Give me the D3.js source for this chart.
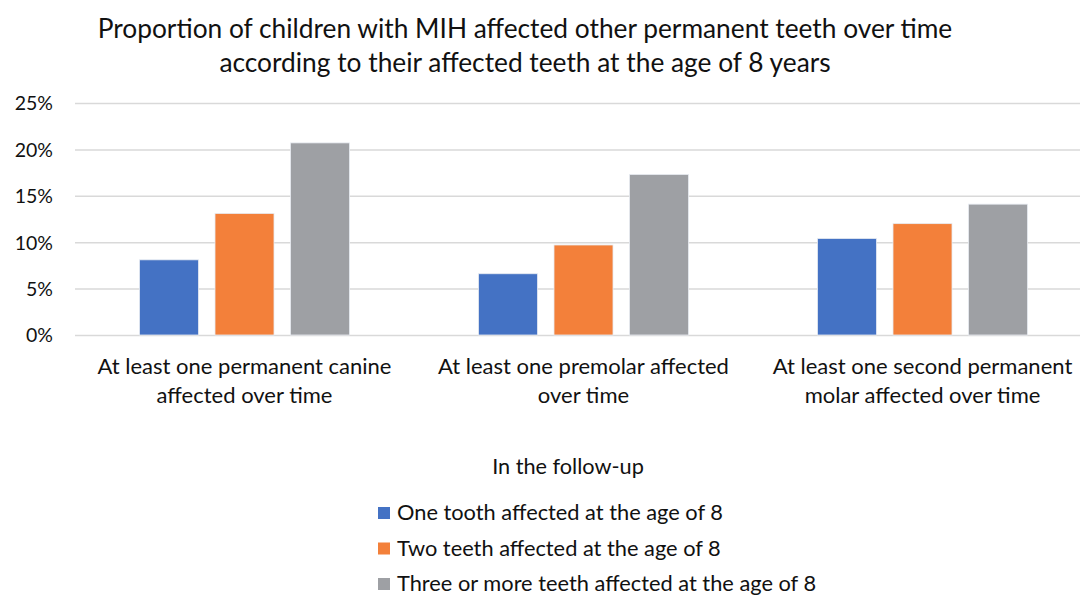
<!DOCTYPE html>
<html>
<head>
<meta charset="utf-8">
<script src="https://cdn.jsdelivr.net/npm/d3@7"></script>
<style>
  body { margin: 0; background: #fff; }
  svg text { font-family: Lato, "Open Sans", sans-serif; fill: #111; }
</style>
</head>
<body>
<svg id="chart" width="1080" height="596"></svg>
<script>
// data
var categories = [
    ["At least one permanent canine", "affected over time"],
    ["At least one premolar affected", "over time"],
    ["At least one second permanent", "molar affected over time"]
];
var seriesNames = [
    "One tooth affected at the age of 8",
    "Two teeth affected at the age of 8",
    "Three or more teeth affected at the age of 8"
];
var oneTooth = [8.1, 6.6, 10.4];
var twoTeeth = [13.1, 9.7, 12.0];
var threeTeeth = [20.7, 17.3, 14.1];
var yTicks = [0, 5, 10, 15, 20, 25];
var colours = ["#4472C4", "#F3803A", "#9EA0A4"];

var series = [oneTooth, twoTeeth, threeTeeth];
var svg = d3.select("svg#chart");

var x0 = d3.scaleBand()
    .domain(d3.range(categories.length))
    .range([75, 1092])
    .padding(0);

var x1 = d3.scaleBand()
    .domain(d3.range(series.length))
    .range([0, x0.bandwidth()])
    .paddingInner(0.2185)
    .paddingOuter(0.854);

var y = d3.scaleLinear()
    .domain([0, 25])
    .range([335, 103]);

// title
svg.append("text")
    .attr("x", 525).attr("y", 38)
    .attr("text-anchor", "middle")
    .style("font-size", "26.3px")
    .text("Proportion of children with MIH affected other permanent teeth over time");
svg.append("text")
    .attr("x", 525).attr("y", 72)
    .attr("text-anchor", "middle")
    .style("font-size", "26.3px")
    .text("according to their affected teeth at the age of 8 years");

// gridlines + y labels
var yAxis = d3.axisLeft(y)
    .tickValues(yTicks)
    .tickSize(-(1080 - 75))
    .tickPadding(22)
    .tickFormat(function(d) { return d + "%"; });

var gy = svg.append("g")
    .attr("transform", "translate(75,0)")
    .call(yAxis);
gy.select(".domain").remove();
gy.selectAll(".tick line").attr("stroke", "#d9d9d9").attr("stroke-width", 1.5);
gy.selectAll(".tick text")
    .style("font-size", "19.5px")
    .style("fill", "#111")
    .attr("dy", "0.35em");

// bars
var groups = svg.append("g")
    .selectAll("g")
    .data(categories)
    .enter()
    .append("g")
    .attr("transform", function(d, i) { return "translate(" + x0(i) + ",0)"; });

groups.selectAll("rect")
    .data(function(d, i) { return series.map(function(s, j) { return {s: j, v: s[i]}; }); })
    .enter()
    .append("rect")
    .attr("x", function(d) { return x1(d.s); })
    .attr("y", function(d) { return y(d.v); })
    .attr("width", x1.bandwidth())
    .attr("height", function(d) { return y(0) - y(d.v); })
    .attr("fill", function(d) { return colours[d.s]; })
    .attr("stroke", "#e8ecf2")
    .attr("stroke-width", 0.8);

// category labels
groups.each(function(d, i) {
    var g = d3.select(this);
    d.forEach(function(line, k) {
        g.append("text")
            .attr("x", x0.bandwidth() / 2)
            .attr("y", 374 + k * 29)
            .attr("text-anchor", "middle")
            .style("font-size", "22px")
            .text(line);
    });
});

// legend
svg.append("text")
    .attr("x", 568).attr("y", 474)
    .attr("text-anchor", "middle")
    .style("font-size", "21.7px")
    .text("In the follow-up");

var legend = svg.append("g")
    .selectAll("g")
    .data(seriesNames)
    .enter()
    .append("g")
    .attr("transform", function(d, i) { return "translate(378," + (513 + i * 35.5) + ")"; });

legend.append("rect")
    .attr("x", 0).attr("y", -6)
    .attr("width", 12).attr("height", 12)
    .attr("fill", function(d, i) { return colours[i]; });

legend.append("text")
    .attr("x", 19).attr("y", 7)
    .style("font-size", "21.8px")
    .text(function(d) { return d; });
</script>
</body>
</html>
